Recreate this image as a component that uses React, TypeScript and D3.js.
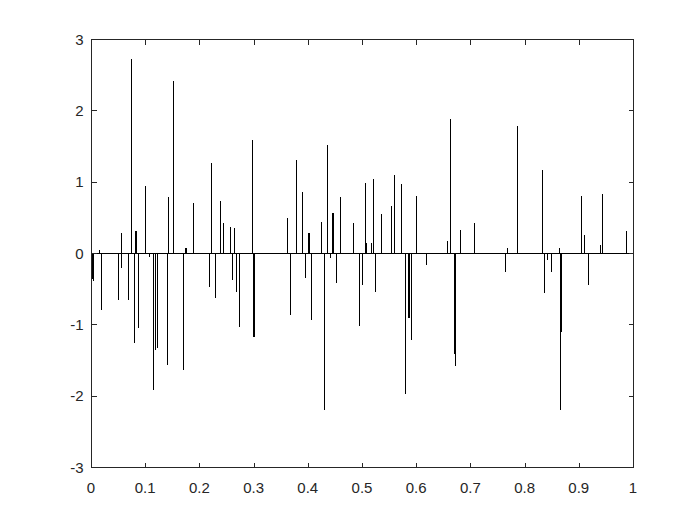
import React, { useEffect, useRef } from "react";
import * as d3 from "d3";

// spike positions (t) and amplitudes
const spikeT = [
  0.002, 0.003, 0.0153, 0.019, 0.05, 0.0554, 0.0555, 0.069, 0.0745, 0.0787,
  0.081, 0.083, 0.0873, 0.0985, 0.1, 0.1075, 0.1138, 0.1187, 0.1223, 0.1395,
  0.1405, 0.142, 0.152, 0.17, 0.174, 0.176, 0.189, 0.2175, 0.2185, 0.222,
  0.2294, 0.2386, 0.244, 0.257, 0.2607, 0.2644, 0.268, 0.2723, 0.2976, 0.299,
  0.301, 0.361, 0.3678, 0.3776, 0.39, 0.394, 0.4, 0.402, 0.403, 0.4065,
  0.425, 0.4305, 0.436, 0.4415, 0.445, 0.447, 0.4526, 0.46, 0.484, 0.495,
  0.5006, 0.506, 0.5075, 0.517, 0.521, 0.5246, 0.5345, 0.554, 0.5596, 0.5726,
  0.58, 0.5855, 0.5875, 0.591, 0.6, 0.6187, 0.6574, 0.663, 0.6705, 0.672,
  0.681, 0.707, 0.7644, 0.768, 0.7865, 0.8327, 0.835, 0.8405, 0.841, 0.8493,
  0.864, 0.8655, 0.867, 0.9035, 0.91, 0.917, 0.9397, 0.943, 0.9877,
];
const spikeV = [
  -0.35, -0.38, 0.06, -0.79, -0.64, 0.29, -0.2, -0.65, 2.73, -1.25,
  0.32, 0.32, -1.04, 0.02, 0.96, -0.04, -1.91, -1.35, -1.32, -0.62,
  -1.55, 0.8, 2.43, -1.63, 0.08, 0.08, 0.71, -0.21, -0.46, 1.28,
  -0.61, 0.74, 0.43, 0.38, -0.37, 0.36, -0.53, -1.02, 1.6, -1.17,
  -1.17, 0.5, -0.85, 1.32, 0.87, -0.34, 0.29, 0.29, 0.12, -0.93,
  0.45, -2.19, 1.53, -0.05, 0.58, 0.58, -0.4, 0.8, 0.44, -1.01,
  -0.43, 1.0, 0.16, 0.15, 1.05, -0.53, 0.56, 0.67, 1.11, 0.98,
  -1.96, -0.9, -0.9, -1.21, 0.81, -0.15, 0.18, 1.89, -1.4, -1.57,
  0.33, 0.43, -0.25, 0.08, 1.8, 1.18, -0.55, -0.09, -0.09, -0.25,
  0.08, -2.19, -1.1, 0.82, 0.27, -0.44, 0.13, 0.84, 0.32,
];
const xTicks = [0, 0.1, 0.2, 0.3, 0.4, 0.5, 0.6, 0.7, 0.8, 0.9, 1];
const yTicks = [-3, -2, -1, 0, 1, 2, 3];

export default function App() {
  const svgRef = useRef(null);

  useEffect(() => {
    const svg = d3.select(svgRef.current);
    const width = 700;
    const height = 525;
    const margin = { top: 39, right: 67, bottom: 58, left: 91 };
    const axisColor = "#262626";
    const tickLen = 5;

    svg.selectAll("*").remove();
    svg.append("rect").attr("width", width).attr("height", height).attr("fill", "#fff");

    const x = d3.scaleLinear().domain([0, 1]).range([margin.left, width - margin.right]);
    const y = d3.scaleLinear().domain([-3, 3]).range([height - margin.bottom, margin.top]);
    const px = (t) => Math.round(x(t)) + 0.5;
    const py = (v) => Math.round(y(v)) + 0.5;

    // signal drawn as one polyline along the zero line with vertical spikes
    const pts = [[0, 0]];
    spikeT.forEach((t, i) => {
      pts.push([t, 0], [t, spikeV[i]], [t, 0]);
    });
    pts.push([1, 0]);
    const line = d3
      .line()
      .x((d) => px(d[0]))
      .y((d) => py(d[1]));
    svg
      .append("path")
      .attr("d", line(pts))
      .attr("fill", "none")
      .attr("stroke", "#000")
      .attr("stroke-width", 1)
      .attr("shape-rendering", "crispEdges");

    const x0 = px(0), x1 = px(1), y0 = py(-3), y1 = py(3);
    const g = svg.append("g").attr("stroke", axisColor).attr("stroke-width", 1)
      .attr("shape-rendering", "crispEdges");
    g.append("rect").attr("x", x0).attr("y", y1).attr("width", x1 - x0)
      .attr("height", y0 - y1).attr("fill", "none");

    xTicks.forEach((t) => {
      g.append("line").attr("x1", px(t)).attr("x2", px(t)).attr("y1", y0).attr("y2", y0 - tickLen);
      g.append("line").attr("x1", px(t)).attr("x2", px(t)).attr("y1", y1).attr("y2", y1 + tickLen);
    });
    yTicks.forEach((v) => {
      g.append("line").attr("x1", x0).attr("x2", x0 + tickLen).attr("y1", py(v)).attr("y2", py(v));
      g.append("line").attr("x1", x1).attr("x2", x1 - tickLen).attr("y1", py(v)).attr("y2", py(v));
    });

    const font = "Arial, 'Liberation Sans', Helvetica, sans-serif";
    svg.append("g").selectAll("text").data(xTicks).enter().append("text")
      .attr("x", (t) => x(t))
      .attr("y", y0 + 25)
      .attr("text-anchor", "middle")
      .attr("font-family", font)
      .attr("font-size", 15)
      .attr("fill", axisColor)
      .text((t) => d3.format("~g")(t));

    svg.append("g").selectAll("text").data(yTicks).enter().append("text")
      .attr("x", x0 - 8)
      .attr("y", (v) => y(v) + 5.5)
      .attr("text-anchor", "end")
      .attr("font-family", font)
      .attr("font-size", 15)
      .attr("fill", axisColor)
      .text((v) => String(v));
  }, []);

  return (
    <svg
      ref={svgRef}
      width={700}
      height={525}
      style={{ position: "absolute", left: 0, top: 0 }}
    />
  );
}
